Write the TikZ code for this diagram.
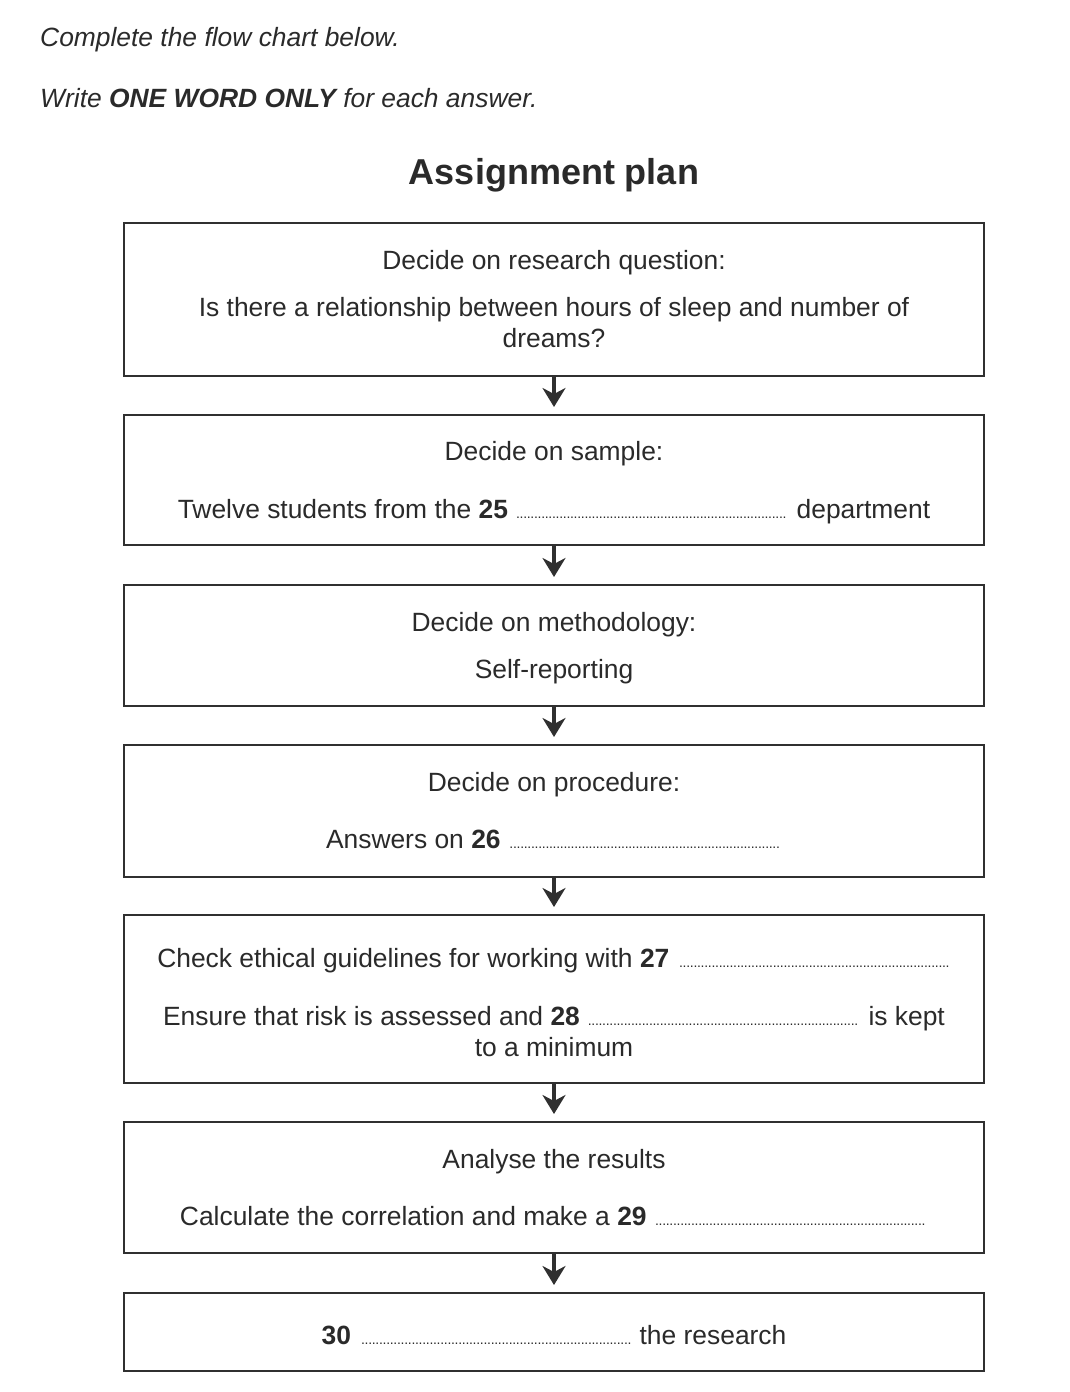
\documentclass[tikz,border=0pt]{standalone}
\usepackage{fontspec}
\setmainfont{Liberation Sans}
\usetikzlibrary{arrows.meta}
\definecolor{inkgray}{HTML}{2A2A2A}
\definecolor{linegray}{HTML}{303030}
\newcommand{\answergap}{{\fontsize{14}{14}\selectfont\leaders\hbox to 3.6pt{\hss.\hss}\hskip 274pt\kern0pt}}
\tikzset{
  stepbox/.style={draw=linegray, line width=2pt, minimum width=860pt, inner sep=0pt},
  flowarrow/.style={draw=linegray, line width=4pt, -{Stealth[length=19pt,width=23pt,inset=6pt]}, shorten >=7pt},
  boxtext/.style={text=inkgray, font=\fontsize{26.4}{31}\selectfont, inner sep=0pt, anchor=base},
}
\begin{document}
\begin{tikzpicture}[x=1pt,y=-1pt]
        % page frame
        \useasboundingbox[fill=white] (0,0) rectangle (1070,1392);
        % instructions and title
        \node[boxtext, anchor=base west] (intro) at (40,46) {\itshape Complete the flow chart below.};
        \node[boxtext, anchor=base west] (rule) at (40,107) {\itshape Write \textbf{ONE WORD ONLY} for each answer.};
        \node[boxtext, font=\fontsize{36}{40}\selectfont\bfseries] (title) at (554,184) {Assignment plan};
        % the seven boxes
        \node[stepbox, minimum height=153pt] (question) at (554,299.5) {};
        \node[stepbox, minimum height=130pt] (sample) at (554,480) {};
        \node[stepbox, minimum height=121pt] (method) at (554,645.5) {};
        \node[stepbox, minimum height=132pt] (procedure) at (554,811) {};
        \node[stepbox, minimum height=168pt] (ethics) at (554,999) {};
        \node[stepbox, minimum height=131pt] (results) at (554,1187.5) {};
        \node[stepbox, minimum height=78pt] (write) at (554,1332) {};
        % arrows between boxes
        \draw[flowarrow] (question) -- (sample);
        \draw[flowarrow] (sample) -- (method);
        \draw[flowarrow] (method) -- (procedure);
        \draw[flowarrow] (procedure) -- (ethics);
        \draw[flowarrow] (ethics) -- (results);
        \draw[flowarrow] (results) -- (write);
        % box texts
        \node[boxtext] (q1) at (554,269) {Decide on research question:};
        \node[boxtext] (q2) at (554,316) {Is there a relationship between hours of sleep and number of};
        \node[boxtext] (q3) at (554,347) {dreams?};
        \node[boxtext] (s1) at (554,460) {Decide on sample:};
        \node[boxtext] (s2) at (554,518) {Twelve students from the \textbf{25} \answergap\ department};
        \node[boxtext] (m1) at (554,631) {Decide on methodology:};
        \node[boxtext] (m2) at (554,678) {Self-reporting};
        \node[boxtext] (p1) at (554,791) {Decide on procedure:};
        \node[boxtext] (p2) at (554,848) {Answers on \textbf{26} \answergap};
        \node[boxtext] (e1) at (554,967) {Check ethical guidelines for working with \textbf{27} \answergap};
        \node[boxtext] (e2) at (554,1025) {Ensure that risk is assessed and \textbf{28} \answergap\ is kept};
        \node[boxtext] (e3) at (554,1056) {to a minimum};
        \node[boxtext] (r1) at (554,1168) {Analyse the results};
        \node[boxtext] (r2) at (554,1225) {Calculate the correlation and make a \textbf{29} \answergap};
        \node[boxtext] (w1) at (554,1344) {\textbf{30} \answergap\ the research};
\end{tikzpicture}
\end{document}
